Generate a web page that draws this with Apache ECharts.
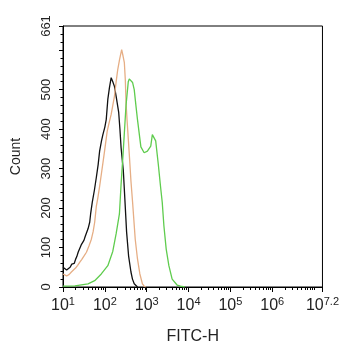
<!DOCTYPE html>
<html><head><meta charset="utf-8">
<script src="https://cdn.jsdelivr.net/npm/echarts@6/dist/echarts.min.js"></script>
<style>html,body{margin:0;padding:0;background:#fff}#c{width:342px;height:350px}</style>
</head><body><div id="c"></div>
<script>
// x values are log10(FITC-H)
const blackX = [1.0,1.04,1.087,1.13,1.17,1.21,1.236,1.27,1.30,1.33,1.362,1.40,1.442,1.47,1.50,1.53,1.56,1.60,1.638,1.66,1.70,1.75,1.797,1.84,1.875,1.92,1.953,2.0,2.033,2.071,2.11,2.151,2.19,2.229,2.27,2.331,2.36,2.388,2.442,2.482,2.52,2.567,2.624,2.66,2.702,2.74,2.78];
const blackY = [50,47,43,48,50,58,62,60,70,77,88,92,108,107,118,128,130,148,164,185,215,245,278,310,344,370,386,405,424,475,505,530,520,508,483,442,400,353,294,215,139,79,38,20,8,3,0];
const orangeX = [1.0,1.04,1.087,1.15,1.2,1.243,1.3,1.35,1.402,1.45,1.5,1.56,1.62,1.678,1.72,1.757,1.797,1.835,1.875,1.915,1.955,1.993,2.057,2.10,2.151,2.19,2.229,2.27,2.307,2.35,2.402,2.435,2.466,2.489,2.506,2.530,2.584,2.624,2.662,2.726,2.78,2.837,2.898,2.94,2.979];
const orangeY = [33,30,28,32,38,41,48,55,63,70,78,88,104,121,140,164,205,227,255,285,315,344,395,415,437,460,483,520,550,575,601,585,568,525,467,424,336,268,216,121,71,33,8,2,0];
const greenX = [1.0,1.284,1.598,1.757,1.915,2.071,2.189,2.270,2.348,2.388,2.442,2.506,2.560,2.584,2.662,2.702,2.742,2.780,2.861,2.939,3.017,3.097,3.135,3.151,3.215,3.277,3.333,3.371,3.411,3.466,3.530,3.608,3.726,3.806,3.91];
const greenY = [2,3,8,16,33,54,90,135,185,260,348,460,520,527,518,500,460,424,355,340,344,357,386,387,370,311,252,215,155,96,54,20,5,2,0];
const xMajor = [1,2,3,4,5,6,7.2];
const yTicks = [0,100,200,300,400,500,600,661];
const yLabels = [0,100,200,300,400,500,661];

const xMinor = [];
for (let d = 1; d <= 7; d++) for (let k = (d === 7 ? 1 : 2); k <= 9; k++) { const v = d + Math.log10(k); if (v < 7.2 && !(k === 1 && d !== 7)) xMinor.push(v); }
const yMinor = [];
for (let v = 20; v <= 660; v += 20) if (v % 100 !== 0) yMinor.push(v);

const zip = (a, b) => a.map((v, i) => [v, b[i]]);
const font = 'Liberation Sans, Arial, sans-serif';
const chart = echarts.init(document.getElementById('c'), null, {renderer: 'canvas'});
const lineS = (name, x, y, color) => ({
  name, type: 'line', data: zip(x, y), showSymbol: false, symbol: 'none', smooth: false,
  lineStyle: {color, width: 1.3}, xAxisIndex: 0, yAxisIndex: 0, z: 3
});
chart.setOption({
  animation: false,
  grid: {left: 63, right: 17, top: 26, bottom: 62, show: true, borderColor: '#000', borderWidth: 1},
  xAxis: [{
    type: 'value', min: 1, max: 7.2, position: 'bottom',
    name: 'FITC-H', nameLocation: 'middle', nameGap: 42,
    nameTextStyle: {fontFamily: font, fontSize: 16, color: '#222'},
    axisLine: {show: true, lineStyle: {color: '#000', width: 1}},
    axisTick: {show: true, customValues: xMajor, length: 5, lineStyle: {color: '#000'}},
    axisLabel: {customValues: xMajor, margin: 9, fontFamily: font, color: '#222',
      formatter: v => '{b|10}{s|' + (Math.round(v * 10) / 10) + '}',
      rich: {b: {fontSize: 16, fontFamily: font, color: '#222'}, s: {fontSize: 11, fontFamily: font, color: '#222', padding: [0, 0, 9, 0]}}},
    splitLine: {show: false}
  }, {
    type: 'value', min: 1, max: 7.2, position: 'bottom',
    axisLine: {show: false},
    axisTick: {show: true, customValues: xMinor, length: 3, lineStyle: {color: '#000'}},
    axisLabel: {show: false}, splitLine: {show: false}
  }],
  yAxis: [{
    type: 'value', min: 0, max: 661, position: 'left',
    name: 'Count', nameLocation: 'middle', nameGap: 40, nameRotate: 90,
    nameTextStyle: {fontFamily: font, fontSize: 14, color: '#222'},
    axisLine: {show: true, lineStyle: {color: '#000', width: 1}},
    axisTick: {show: true, customValues: yTicks, length: 4, lineStyle: {color: '#000'}},
    axisLabel: {customValues: yLabels, rotate: 90, margin: 10, fontFamily: font, fontSize: 13, color: '#222'},
    splitLine: {show: false}
  }, {
    type: 'value', min: 0, max: 661, position: 'left',
    axisLine: {show: false},
    axisTick: {show: true, customValues: yMinor, length: 2.5, lineStyle: {color: '#000'}},
    axisLabel: {show: false}, splitLine: {show: false}
  }],
  series: [
    lineS('black', blackX, blackY, '#111111'),
    lineS('orange', orangeX, orangeY, '#E6AE85'),
    lineS('green', greenX, greenY, '#5FCC4E')
  ]
});
</script></body></html>
